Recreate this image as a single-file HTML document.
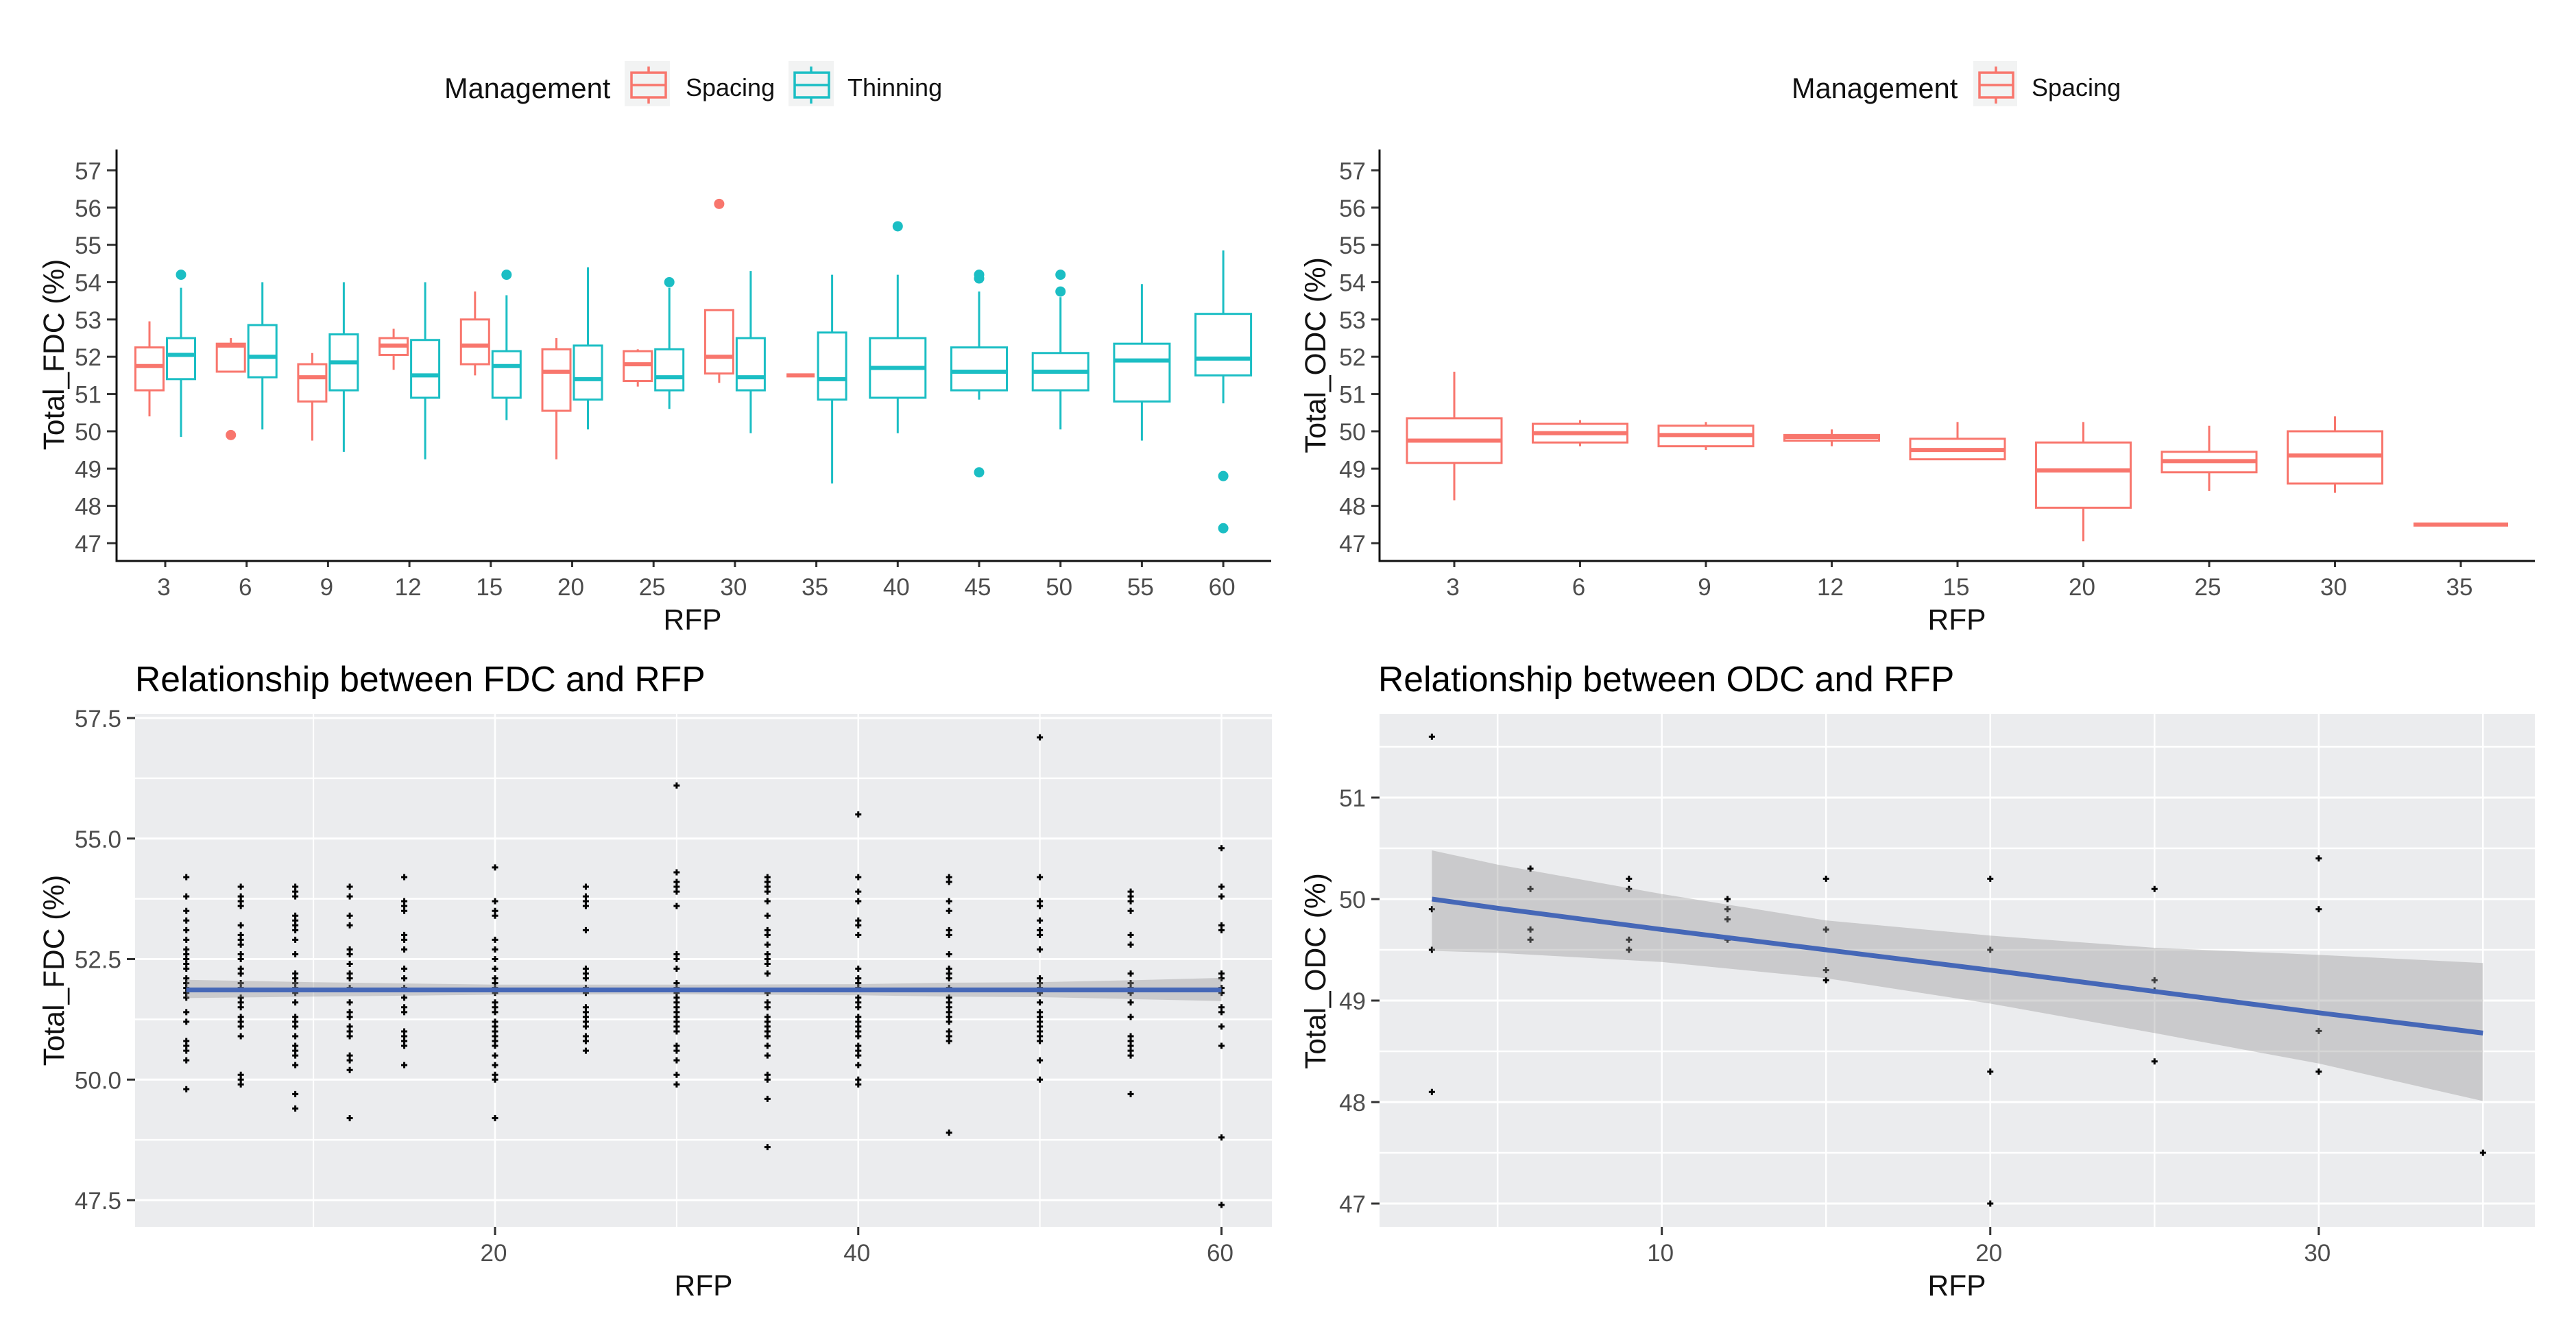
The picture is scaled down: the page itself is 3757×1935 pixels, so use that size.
<!DOCTYPE html>
<html lang="en">
<head>
<meta charset="utf-8">
<title>FDC and ODC versus RFP</title>
<style>
html,body{margin:0;padding:0;background:#fff;}
svg{display:block;font-family:"Liberation Sans",Arial,sans-serif;}
.tick{font-size:35px;fill:#4d4d4d;}
.title{font-size:42.5px;fill:#111;}
.legend-title{font-size:41.5px;fill:#111;}
.plot-title{font-size:51.6px;fill:#000;}
.leg{font-size:36px;fill:#111;}
</style>
</head>
<body>
<svg id="chart" xmlns="http://www.w3.org/2000/svg" width="3757" height="1935" viewBox="0 0 3757 1935">
  <rect width="3757" height="1935" fill="#fff"/>

  <g>
    <text class="legend-title" x="648" y="143">Management</text>
    <g fill="none" stroke="#F8766D" stroke-width="3.5">
      <rect x="911" y="89" width="66" height="66" fill="#f2f3f3" stroke="none"/>
      <path d="M946 97V106M946 142V151M921 124H971"/>
      <rect x="921" y="106" width="50" height="36"/>
    </g>
    <text class="leg" x="1000" y="140">Spacing</text>
    <g fill="none" stroke="#1BBEC4" stroke-width="3.5">
      <rect x="1150" y="89" width="66" height="66" fill="#f2f3f3" stroke="none"/>
      <path d="M1183 97V106M1183 142V151M1159 124H1209"/>
      <rect x="1159" y="106" width="50" height="36"/>
    </g>
    <text class="leg" x="1236" y="140">Thinning</text>
  </g>

  <g>
    <text class="legend-title" x="2613" y="143">Management</text>
    <g fill="none" stroke="#F8766D" stroke-width="3.5">
      <rect x="2878" y="89" width="64" height="66" fill="#f2f3f3" stroke="none"/>
      <path d="M2911 97V106M2911 142V151M2887 124H2936"/>
      <rect x="2887" y="106" width="49" height="36"/>
    </g>
    <text class="leg" x="2963" y="140">Spacing</text>
  </g>

  <text class="title" text-anchor="middle" transform="translate(93,517) rotate(-90)">Total_FDC (%)</text>
  <text class="title" text-anchor="middle" x="1010" y="918">RFP</text>
  <text class="title" text-anchor="middle" transform="translate(1933,518) rotate(-90)">Total_ODC (%)</text>
  <text class="title" text-anchor="middle" x="2854" y="918">RFP</text>

  <text class="plot-title" x="197" y="1008">Relationship between FDC and RFP</text>
  <text class="title" text-anchor="middle" transform="translate(93,1415) rotate(-90)">Total_FDC (%)</text>
  <text class="title" text-anchor="middle" x="1026" y="1889">RFP</text>
  <text class="plot-title" x="2010" y="1008">Relationship between ODC and RFP</text>
  <text class="title" text-anchor="middle" transform="translate(1933,1416) rotate(-90)">Total_ODC (%)</text>
  <text class="title" text-anchor="middle" x="2854" y="1889">RFP</text>

  <g id="panelA"></g>
  <g id="panelB"></g>
  <g id="panelC"></g>
  <g id="panelD"></g>
</svg>

<script>
/* ---------- Top-left: FDC boxplots ---------- */
const boxYTicks = [47,48,49,50,51,52,53,54,55,56,57];
const fdcCategories = [3,6,9,12,15,20,25,30,35,40,45,50,55,60];

const fdcSpacingCats = [3,6,9,12,15,20,25,30,35];
const fdcSpacingLow = [50.4,51.6,49.75,51.65,51.5,49.25,51.2,51.3,51.5];
const fdcSpacingQ1 = [51.1,51.6,50.8,52.05,51.8,50.55,51.35,51.55,51.5];
const fdcSpacingMed = [51.75,52.3,51.45,52.3,52.3,51.6,51.8,52,51.5];
const fdcSpacingQ3 = [52.25,52.35,51.8,52.5,53,52.2,52.15,53.25,51.5];
const fdcSpacingHigh = [52.95,52.5,52.1,52.75,53.75,52.5,52.2,53.25,51.5];
const fdcSpacingOutlierCats = [6,30];
const fdcSpacingOutlierVals = [49.9,56.1];

const fdcThinningCats = [3,6,9,12,15,20,25,30,35,40,45,50,55,60];
const fdcThinningLow = [49.85,50.05,49.45,49.25,50.3,50.05,50.6,49.95,48.6,49.95,50.85,50.05,49.75,50.75];
const fdcThinningQ1 = [51.4,51.45,51.1,50.9,50.9,50.85,51.1,51.1,50.85,50.9,51.1,51.1,50.8,51.5];
const fdcThinningMed = [52.05,52,51.85,51.5,51.75,51.4,51.45,51.45,51.4,51.7,51.6,51.6,51.9,51.95];
const fdcThinningQ3 = [52.5,52.85,52.6,52.45,52.15,52.3,52.2,52.5,52.65,52.5,52.25,52.1,52.35,53.15];
const fdcThinningHigh = [53.85,54,54,54,53.65,54.4,53.85,54.3,54.2,54.2,53.75,53.6,53.95,54.85];
const fdcThinningOutlierCats = [3,15,25,40,45,45,45,50,50,60,60];
const fdcThinningOutlierVals = [54.2,54.2,54,55.5,54.2,54.1,48.9,54.2,53.75,48.8,47.4];

/* ---------- Top-right: ODC boxplots ---------- */
const odcCategories = [3,6,9,12,15,20,25,30,35];
const odcLow = [48.15,49.6,49.5,49.6,49.25,47.05,48.4,48.35,47.5];
const odcQ1 = [49.15,49.7,49.6,49.75,49.25,47.95,48.9,48.6,47.5];
const odcMed = [49.75,49.95,49.9,49.85,49.5,48.95,49.2,49.35,47.5];
const odcQ3 = [50.35,50.2,50.15,49.9,49.8,49.7,49.45,50,47.5];
const odcHigh = [51.6,50.3,50.25,50.05,50.25,50.25,50.15,50.4,47.5];

/* ---------- Bottom-left: FDC scatter ---------- */
const fdcScatterYTicks = [47.5,50,52.5,55,57.5];
const fdcScatterYMinor = [48.75,51.25,53.75,56.25];
const fdcScatterXTicks = [20,40,60];
const fdcScatterXMinor = [10,30,50];
const fdcRfp = [3,6,9,12,15,20,25,30,35,40,45,50,55,60];
const fdcValues3 = [54.2,53.8,53.5,53.3,53.1,52.9,52.7,52.6,52.5,52.4,52.3,52.1,52,51.9,51.8,51.7,51.4,51.2,50.8,50.7,50.6,50.4,49.8];
const fdcValues6 = [54,53.8,53.7,53.6,53.2,53,52.9,52.8,52.6,52.5,52.3,52.2,52,51.9,51.7,51.6,51.5,51.3,51.2,51.1,50.9,50.1,50,49.9];
const fdcValues9 = [54,53.9,53.8,53.4,53.3,53.2,53.1,52.9,52.6,52.2,52.1,52,51.9,51.8,51.6,51.3,51.2,51.1,50.9,50.7,50.6,50.5,50.3,49.7,49.4];
const fdcValues12 = [54,53.8,53.4,53.2,52.7,52.6,52.4,52.2,52.1,51.9,51.6,51.4,51.3,51.1,51,50.9,50.5,50.4,50.2,49.2];
const fdcValues15 = [54.2,53.7,53.6,53.5,53,52.9,52.7,52.3,52.1,51.9,51.7,51.5,51.4,51,50.9,50.8,50.7,50.3];
const fdcValues20 = [54.4,53.7,53.5,53.4,52.9,52.7,52.5,52.3,52.1,52,51.9,51.8,51.6,51.5,51.4,51.2,51.1,51,50.9,50.8,50.7,50.5,50.3,50.1,50,49.2];
const fdcValues25 = [54,53.8,53.7,53.6,53.1,52.3,52.2,52.1,51.9,51.8,51.5,51.4,51.3,51.2,51.1,50.9,50.8,50.6];
const fdcValues30 = [56.1,54.3,54.1,54,53.9,53.6,52.6,52.5,52.3,52,51.9,51.8,51.7,51.6,51.5,51.4,51.3,51.2,51.1,51,50.7,50.6,50.4,50.1,49.9];
const fdcValues35 = [54.2,54.1,54,53.9,53.7,53.4,53.1,53,52.8,52.6,52.5,52.4,52.2,51.8,51.6,51.5,51.3,51.2,51.1,51,50.9,50.7,50.5,50.1,50,49.6,48.6];
const fdcValues40 = [55.5,54.2,53.9,53.7,53.3,53.2,53,52.3,52.1,52,51.9,51.7,51.6,51.5,51.3,51.2,51.1,51,50.9,50.7,50.6,50.5,50.3,50,49.9];
const fdcValues45 = [54.2,54.1,53.7,53.5,53.1,53,52.6,52.3,52.2,52.1,51.9,51.7,51.6,51.5,51.4,51.3,51.2,51,50.9,50.8,48.9];
const fdcValues50 = [57.1,54.2,53.7,53.6,53.3,53.1,53,52.7,52.1,52,51.9,51.8,51.6,51.4,51.3,51.2,51.1,51,50.9,50.8,50.4,50];
const fdcValues55 = [53.9,53.8,53.7,53.5,53,52.8,52.2,52,51.9,51.8,51.6,51.3,50.9,50.8,50.7,50.6,50.5,49.7];
const fdcValues60 = [54.8,54,53.8,53.2,53.1,52.2,52.1,51.9,51.8,51.5,51.4,51.1,50.7,48.8,47.4];
const fdcAllValues = [fdcValues3,fdcValues6,fdcValues9,fdcValues12,fdcValues15,fdcValues20,fdcValues25,fdcValues30,fdcValues35,fdcValues40,fdcValues45,fdcValues50,fdcValues55,fdcValues60];
const fdcFitRfp = [3,10,20,30,40,45,50,55,60];
const fdcFit = [51.86,51.86,51.86,51.86,51.86,51.86,51.86,51.86,51.86];
const fdcFitUpper = [52.07,52.02,51.97,51.97,51.98,52.01,52.02,52.06,52.11];
const fdcFitLower = [51.69,51.72,51.76,51.77,51.75,51.72,51.71,51.67,51.63];

/* ---------- Bottom-right: ODC scatter ---------- */
const odcScatterYTicks = [47,48,49,50,51];
const odcScatterYMinor = [47.5,48.5,49.5,50.5,51.5];
const odcScatterXTicks = [10,20,30];
const odcScatterXMinor = [5,15,25,35];
const odcRfp = [3,6,9,12,15,20,25,30,35];
const odcValues3 = [51.6,49.9,49.5,48.1];
const odcValues6 = [50.3,50.1,49.7,49.6];
const odcValues9 = [50.2,50.1,49.6,49.5];
const odcValues12 = [50,49.9,49.8,49.6];
const odcValues15 = [50.2,49.7,49.3,49.2];
const odcValues20 = [50.2,49.5,48.3,47];
const odcValues25 = [50.1,49.2,49.1,48.4];
const odcValues30 = [50.4,49.9,48.7,48.3];
const odcValues35 = [47.5];
const odcAllValues = [odcValues3,odcValues6,odcValues9,odcValues12,odcValues15,odcValues20,odcValues25,odcValues30,odcValues35];
const odcFitRfp = [3,5,10,15,20,25,30,35];
const odcFit = [50,49.91,49.7,49.5,49.3,49.09,48.88,48.68];
const odcFitUpper = [50.48,50.34,50.05,49.79,49.64,49.52,49.45,49.37];
const odcFitLower = [49.49,49.47,49.38,49.22,48.97,48.68,48.38,48.01];

/* ---------- Drawing helpers ---------- */
const NS = 'http://www.w3.org/2000/svg';
const RED = '#F8766D';
const TEAL = '#1BBEC4';
function mk(tag, attrs, parent) {
  const e = document.createElementNS(NS, tag);
  for (const k in attrs) e.setAttribute(k, attrs[k]);
  parent.appendChild(e);
  return e;
}
function linear(d0, d1, r0, r1) {
  return function (v) { return r0 + (v - d0) * (r1 - r0) / (d1 - d0); };
}
function drawTickLabelY(parent, panelKey, value, label, tickX0, tickX1, y) {
  const t = mk('line', {x1: tickX0, x2: tickX1, y1: y, y2: y, stroke: '#333', 'stroke-width': 3}, parent);
  
  
  const l = mk('text', {x: tickX0 - 8, y: y + 13, class: 'tick', 'text-anchor': 'end'}, parent);
  l.textContent = label;
  
  
}
function drawTickLabelX(parent, panelKey, value, x, tickY0, tickY1, baseline) {
  const t = mk('line', {x1: x, x2: x, y1: tickY0, y2: tickY1, stroke: '#333', 'stroke-width': 3}, parent);
  
  
  const l = mk('text', {x: x - 2, y: baseline, class: 'tick', 'text-anchor': 'middle'}, parent);
  l.textContent = String(value);
  
  
}
function drawBox(parent, name, color, cx, width, sw, y, low, q1, med, q3, high) {
  const g = mk('g', {}, parent);
  
  
  const hw = width / 2;
  if (high > q3) {
    const up = mk('line', {x1: cx, x2: cx, y1: y(high), y2: y(q3), stroke: color, 'stroke-width': sw}, g);
    
    
  }
  if (low < q1) {
    const dn = mk('line', {x1: cx, x2: cx, y1: y(q1), y2: y(low), stroke: color, 'stroke-width': sw}, g);
    
    
  }
  const r = mk('rect', {x: cx - hw, y: y(q3), width: width, height: Math.max(0, y(q1) - y(q3)), fill: '#fff', 'fill-opacity': 0, stroke: color, 'stroke-width': sw}, g);
  
  
  const m = mk('line', {x1: cx - hw, x2: cx + hw, y1: y(med), y2: y(med), stroke: color, 'stroke-width': sw * 2}, g);
  
  
}
function drawAxes(parent, panelKey, xLeft, xRight, yTop, yBottom) {
  const v = mk('line', {x1: xLeft, x2: xLeft, y1: yTop, y2: yBottom + 1.5, stroke: '#111', 'stroke-width': 3}, parent);
  
  
  const h = mk('line', {x1: xLeft, x2: xRight, y1: yBottom, y2: yBottom, stroke: '#111', 'stroke-width': 3}, parent);
  
  
}
function drawPanelBackground(parent, panelKey, xL, xR, yT, yB) {
  const r = mk('rect', {x: xL, y: yT, width: xR - xL, height: yB - yT, fill: '#EBECEE'}, parent);
  
  
}
function drawGridH(parent, panelKey, kind, value, xL, xR, y, w) {
  const e = mk('line', {x1: xL, x2: xR, y1: y, y2: y, stroke: '#fff', 'stroke-width': w}, parent);
  
  
}
function drawGridV(parent, panelKey, kind, value, x, yT, yB, w) {
  const e = mk('line', {x1: x, x2: x, y1: yT, y2: yB, stroke: '#fff', 'stroke-width': w}, parent);
  
  
}
function drawPoint(parent, name, x, y, arm, sw) {
  const d = 'M' + (x - arm) + ' ' + y + 'H' + (x + arm) + 'M' + x + ' ' + (y - arm) + 'V' + (y + arm);
  const p = mk('path', {d: d, stroke: '#000', 'stroke-width': sw, fill: 'none'}, parent);
  
  
}
function polyline(xs, ys, xf, yf) {
  return xs.map(function (v, i) { return xf(v).toFixed(1) + ',' + yf(ys[i]).toFixed(1); });
}
function drawSmooth(parent, panelKey, xs, fit, upper, lower, xf, yf, sw) {
  const top = polyline(xs, upper, xf, yf);
  const bottom = polyline(xs, lower, xf, yf).reverse();
  const band = mk('polygon', {points: top.concat(bottom).join(' '), fill: '#999', 'fill-opacity': 0.4}, parent);
  
  
  const line = mk('polyline', {points: polyline(xs, fit, xf, yf).join(' '), fill: 'none', stroke: '#4567B7', 'stroke-width': sw}, parent);
  
  
}

/* ---------- Panel A ---------- */
(function () {
  const p = document.getElementById('panelA');
  const y = linear(47, 57, 792, 248.4);
  const band = function (i) { return 241 + i * 118.7; };
  boxYTicks.forEach(function (v) { drawTickLabelY(p, 'fdc-box', v, String(v), 156, 170, y(v)); });
  fdcCategories.forEach(function (c, i) { drawTickLabelX(p, 'fdc-box', c, band(i), 818, 827, 868); });

  fdcSpacingCats.forEach(function (c, i) {
    const cx = band(fdcCategories.indexOf(c)) - 23;
    drawBox(p, 'fdc-box-spacing-' + c, RED, cx, 41, 3, y, fdcSpacingLow[i], fdcSpacingQ1[i], fdcSpacingMed[i], fdcSpacingQ3[i], fdcSpacingHigh[i]);
  });
  fdcThinningCats.forEach(function (c, i) {
    const solo = fdcSpacingCats.indexOf(c) < 0;
    const cx = band(fdcCategories.indexOf(c)) + (solo ? 0 : 23);
    drawBox(p, 'fdc-box-thinning-' + c, TEAL, cx, solo ? 81 : 41, 3, y, fdcThinningLow[i], fdcThinningQ1[i], fdcThinningMed[i], fdcThinningQ3[i], fdcThinningHigh[i]);
  });
  fdcSpacingOutlierCats.forEach(function (c, i) {
    const o = mk('circle', {cx: band(fdcCategories.indexOf(c)) - 23, cy: y(fdcSpacingOutlierVals[i]), r: 7.5, fill: RED}, p);
    
    
  });
  fdcThinningOutlierCats.forEach(function (c, i) {
    const solo = fdcSpacingCats.indexOf(c) < 0;
    const o = mk('circle', {cx: band(fdcCategories.indexOf(c)) + (solo ? 0 : 23), cy: y(fdcThinningOutlierVals[i]), r: 7.5, fill: TEAL}, p);
    
    
  });
  drawAxes(p, 'fdc-box', 170, 1854, 218, 818);
})();

/* ---------- Panel B ---------- */
(function () {
  const p = document.getElementById('panelB');
  const y = linear(47, 57, 792, 248.4);
  const band = function (i) { return 2121 + i * 183.5; };
  boxYTicks.forEach(function (v) { drawTickLabelY(p, 'odc-box', v, String(v), 2000, 2012, y(v)); });
  odcCategories.forEach(function (c, i) {
    drawTickLabelX(p, 'odc-box', c, band(i), 818, 827, 868);
    drawBox(p, 'odc-box-spacing-' + c, RED, band(i), 138, 3, y, odcLow[i], odcQ1[i], odcMed[i], odcQ3[i], odcHigh[i]);
  });
  drawAxes(p, 'odc-box', 2012, 3697, 218, 818);
})();

/* ---------- Panel C ---------- */
(function () {
  const p = document.getElementById('panelC');
  const xL = 197, xR = 1855, yT = 1041, yB = 1789;
  const x = linear(20, 60, 722, 1781.5);
  const y = linear(47.5, 57.5, 1750, 1047);
  drawPanelBackground(p, 'fdc-scatter', xL, xR, yT, yB);
  fdcScatterYMinor.forEach(function (v) { drawGridH(p, 'fdc-scatter', 'minor', v, xL, xR, y(v), 2.5); });
  fdcScatterXMinor.forEach(function (v) { drawGridV(p, 'fdc-scatter', 'minor', v, x(v), yT, yB, 2); });
  fdcScatterYTicks.forEach(function (v) {
    drawGridH(p, 'fdc-scatter', 'major', v, xL, xR, y(v), 3);
    drawTickLabelY(p, 'fdc-scatter', v, v.toFixed(1), 185, 197, y(v));
  });
  fdcScatterXTicks.forEach(function (v) {
    drawGridV(p, 'fdc-scatter', 'major', v, x(v), yT, yB, 2.5);
    drawTickLabelX(p, 'fdc-scatter', v, x(v), yB, yB + 12, 1839);
  });
  fdcRfp.forEach(function (r, i) {
    fdcAllValues[i].forEach(function (v) {
      drawPoint(p, 'fdc-point-rfp-' + r, x(r), y(v), 4.5, 3);
    });
  });
  drawSmooth(p, 'fdc-scatter', fdcFitRfp, fdcFit, fdcFitUpper, fdcFitLower, x, y, 7);
})();

/* ---------- Panel D ---------- */
(function () {
  const p = document.getElementById('panelD');
  const xL = 2012, xR = 3697, yT = 1041, yB = 1789;
  const x = linear(10, 30, 2423.7, 3381.8);
  const y = linear(47, 51, 1755, 1163);
  drawPanelBackground(p, 'odc-scatter', xL, xR, yT, yB);
  odcScatterYMinor.forEach(function (v) { drawGridH(p, 'odc-scatter', 'minor', v, xL, xR, y(v), 2.5); });
  odcScatterXMinor.forEach(function (v) { drawGridV(p, 'odc-scatter', 'minor', v, x(v), yT, yB, 2.5); });
  odcScatterYTicks.forEach(function (v) {
    drawGridH(p, 'odc-scatter', 'major', v, xL, xR, y(v), 3);
    drawTickLabelY(p, 'odc-scatter', v, String(v), 2000, 2012, y(v));
  });
  odcScatterXTicks.forEach(function (v) {
    drawGridV(p, 'odc-scatter', 'major', v, x(v), yT, yB, 2.5);
    drawTickLabelX(p, 'odc-scatter', v, x(v), yB, yB + 12, 1839);
  });
  odcRfp.forEach(function (r, i) {
    odcAllValues[i].forEach(function (v) {
      drawPoint(p, 'odc-point-rfp-' + r, x(r), y(v), 4.5, 3);
    });
  });
  drawSmooth(p, 'odc-scatter', odcFitRfp, odcFit, odcFitUpper, odcFitLower, x, y, 7);
})();
</script>
</body>
</html>
